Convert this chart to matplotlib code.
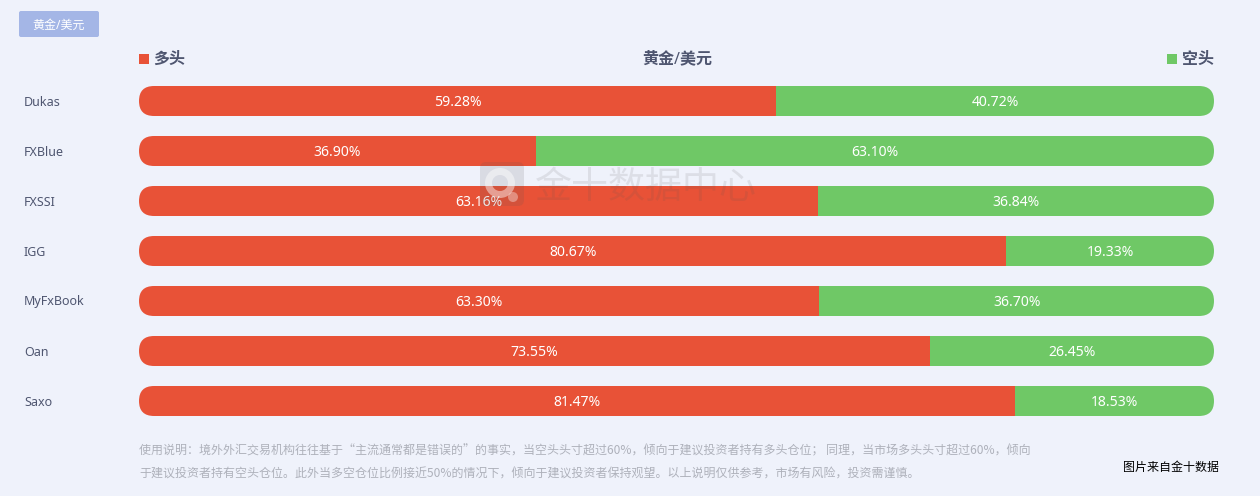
import matplotlib
matplotlib.use("Agg")
import matplotlib.pyplot as plt
from matplotlib.patches import FancyBboxPatch, Rectangle, Wedge, Circle
from matplotlib.transforms import IdentityTransform

plt.rcParams['font.family'] = ['Noto Sans', 'Noto Sans CJK SC', 'DejaVu Sans']
CJK = ['Noto Sans CJK SC', 'DejaVu Sans']

brokers = ["Dukas", "FXBlue", "FXSSI", "IGG", "MyFxBook", "Oan", "Saxo"]
long_pct = [59.28, 36.90, 63.16, 80.67, 63.30, 73.55, 81.47]
short_pct = [40.72, 63.10, 36.84, 19.33, 36.70, 26.45, 18.53]
title = "黄金/美元"
long_label = "多头"
short_label = "空头"
watermark = "金十数据中心"
note_lines = [
    "使用说明：境外外汇交易机构往往基于“主流通常都是错误的”的事实，当空头头寸超过60%，倾向于建议投资者持有多头仓位； 同理，当市场多头头寸超过60%，倾向",
    "于建议投资者持有空头仓位。此外当多空仓位比例接近50%的情况下，倾向于建议投资者保持观望。以上说明仅供参考，市场有风险，投资需谨慎。",
]
credit = "图片来自金十数据"

W, H = 1260, 496
BG = "#eff2fb"
RED = "#e85237"
GREEN = "#6fc866"
INK = "#4f5670"

fig = plt.figure(figsize=(W / 100, H / 100), dpi=100, facecolor=BG)


def fx(x):
    return x / W


def fy(y):
    return 1 - y / H


def px(p):
    return p * 0.72


ax = fig.add_axes([fx(139), fy(426), fx(1214 - 139), (426 - 76) / H])
ax.set_xlim(0, 100)
ax.set_ylim(len(brokers) - 0.5, -0.5)
ax.axis("off")

bar_h = 0.6
rows = range(len(brokers))
bars_l = ax.barh(list(rows), long_pct, height=bar_h, color=RED, linewidth=0)
bars_s = ax.barh(list(rows), short_pct, left=long_pct, height=bar_h, color=GREEN, linewidth=0)

fig.canvas.draw()
label_dy = 0.03
for i in rows:
    (x0, y0), (x1, y1) = ax.transData.transform([(0, i + bar_h / 2), (100, i - bar_h / 2)])
    r = (y1 - y0) / 2
    pill = FancyBboxPatch((x0, y0), x1 - x0, y1 - y0,
                          boxstyle=f"round,pad=0,rounding_size={r}",
                          transform=IdentityTransform())
    bars_l[i].set_clip_path(pill)
    bars_s[i].set_clip_path(pill)
    ax.text(long_pct[i] / 2, i + label_dy, f"{long_pct[i]:.2f}%", color="white", fontsize=px(14),
            ha="center", va="center")
    ax.text(long_pct[i] + short_pct[i] / 2, i + label_dy, f"{short_pct[i]:.2f}%", color="white",
            fontsize=px(14), ha="center", va="center")
    fig.text(fx(24), fy(102 + 50 * i), brokers[i], color=INK, fontsize=px(12.5), ha="left", va="center")

# top-left badge
fig.add_artist(FancyBboxPatch((19, H - 37), 80, 26, boxstyle="round,pad=0,rounding_size=2",
                              transform=IdentityTransform(), facecolor="#a4b6e6", edgecolor="none"))
fig.text(fx(59), fy(25), title, color="white", fontsize=px(12), ha="center", va="center")

# legend row
fig.add_artist(Rectangle((139, H - 64), 10, 10, transform=IdentityTransform(), facecolor=RED, edgecolor="none"))
fig.text(fx(153), fy(59.5), long_label, color=INK, fontsize=px(16), ha="left", va="center", fontweight="bold")
fig.text(fx(677), fy(59.5), title, color=INK, fontsize=px(16), ha="center", va="center", fontweight="bold")
fig.add_artist(Rectangle((1167, H - 64), 10, 10, transform=IdentityTransform(), facecolor=GREEN, edgecolor="none"))
fig.text(fx(1214), fy(59.5), short_label, color=INK, fontsize=px(16), ha="right", va="center", fontweight="bold")

# watermark
fig.add_artist(FancyBboxPatch((480, H - 206), 44, 44, boxstyle="round,pad=0,rounding_size=6",
                              transform=IdentityTransform(), facecolor="#555555", edgecolor="none",
                              alpha=0.14, zorder=5))
fig.add_artist(Wedge((500, H - 183), 15, 0, 360, width=7, transform=IdentityTransform(),
                     facecolor="white", edgecolor="none", alpha=0.45, zorder=5))
fig.add_artist(Circle((513, H - 197), 5, transform=IdentityTransform(), facecolor="white",
                      edgecolor="none", alpha=0.35, zorder=5))
fig.text(fx(535), fy(187), watermark, color="#555555", alpha=0.12, fontsize=px(37), ha="left",
         va="center", zorder=5, family=CJK)

# notes
for line, y in zip(note_lines, (451, 474)):
    fig.text(fx(139), fy(y), line, color="#aeb1bb", fontsize=px(12), ha="left", va="center", family=CJK)
fig.text(fx(1219), fy(467), credit, color="black", fontsize=px(12), ha="right", va="center", family=CJK)

fig.savefig("out.png", dpi=100, facecolor=BG)
